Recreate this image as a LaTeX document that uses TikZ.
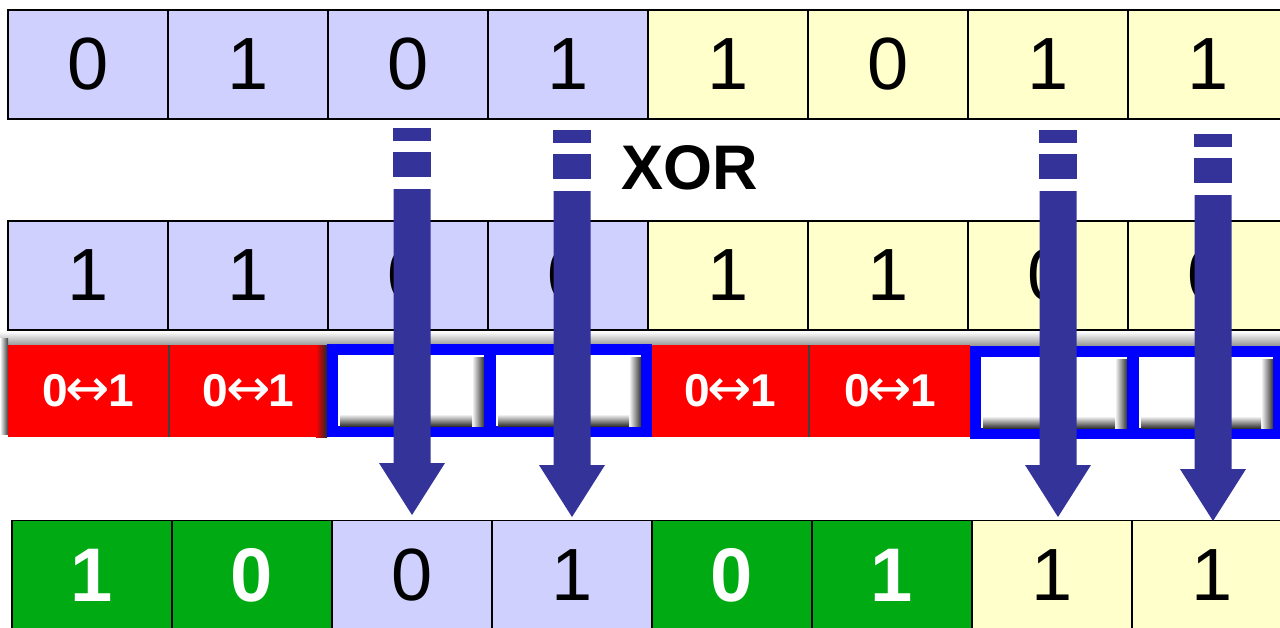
\documentclass[tikz,border=0pt]{standalone}
\usepackage{fontspec}
\setmainfont{Liberation Sans}
\newfontfamily\arrowfont{DejaVu Sans}
\definecolor{lav}{RGB}{208,208,255}
\definecolor{yel}{RGB}{255,255,204}
\definecolor{arrowc}{RGB}{51,51,153}
\definecolor{grn}{RGB}{0,170,18}
\definecolor{redc}{RGB}{255,0,0}
\definecolor{bluec}{RGB}{0,0,255}
\newcommand\xorarrow[2]{%
  \fill[arrowc] ({#1-19},{128+#2}) rectangle ({#1+19},{141+#2});
  \fill[arrowc] ({#1-19},{152+#2}) rectangle ({#1+19},{177+#2});
  \fill[arrowc] ({#1-18.5},{189+#2}) -- ({#1+18.5},{189+#2}) -- ({#1+18.5},{463+#2})
    -- ({#1+33},{463+#2}) -- ({#1},{515+#2}) -- ({#1-33},{463+#2}) -- ({#1-18.5},{463+#2}) -- cycle;}
\newcommand\flip{0{\arrowfont\mdseries\fontsize{53}{53}\selectfont\kern-2pt↔\kern-2pt}1}
\begin{document}
\begin{tikzpicture}[x=1pt,y=-1pt,
  cell/.style={draw=black, line width=1.8pt, minimum width=160pt, minimum height=109pt,
    inner sep=0pt, font=\fontsize{74}{80}\selectfont},
  lavcell/.style={cell, fill=lav},
  yelcell/.style={cell, fill=yel},
  gcell/.style={cell, fill=grn, text=white, font=\bfseries\fontsize{76}{80}\selectfont},
  redcell/.style={fill=redc, text=white, minimum height=92pt, inner sep=0pt,
    font=\bfseries\fontsize{46}{50}\selectfont},
  bluecell/.style={draw=bluec, fill=white, line width=11pt, minimum height=82pt, inner sep=0pt},
]
\useasboundingbox[fill=white] (0,0) rectangle (1280,627);

% row 1
\foreach \v/\c [count=\i] in {0/lavcell,1/lavcell,0/lavcell,1/lavcell,1/yelcell,0/yelcell,1/yelcell,1/yelcell}
  \node[\c] (a\i) at ({88+160*(\i-1)},64.5) {\v};
% row 2
\foreach \v/\c [count=\i] in {1/lavcell,1/lavcell,0/lavcell,0/lavcell,1/yelcell,1/yelcell,0/yelcell,0/yelcell}
  \node[\c] (b\i) at ({88+160*(\i-1)},275.5) {\v};

% shadow band above row 3
\shade[top color=white, bottom color=black!40] (0,331.5) rectangle (1280,345);
\shade[left color=white, right color=black!75] (0,338) rectangle (8,434);

% row 3 : red cells
\node[redcell, minimum width=160pt] (r1) at (88,391) {\flip};
\node[redcell, minimum width=157pt] (r2) at (248.5,391) {\flip};
\node[redcell, minimum width=156pt] (r3) at (730,391) {\flip};
\node[redcell, minimum width=160pt] (r4) at (890,391) {\flip};
\draw[black!75, line width=2pt] ([xshift=1pt]r1.north east) -- ([xshift=1pt]r1.south east);
\draw[black!75, line width=2pt] ([xshift=1pt]r3.north east) -- ([xshift=1pt]r3.south east);
\shade[left color=redc, right color=black!85] (316,345) rectangle (327,437);

% row 3 : blue cells
\node[bluecell, minimum width=157pt] (k1) at (411,390.5) {};
\node[bluecell, minimum width=156pt] (k2) at (568.5,390.5) {};
\node[bluecell, minimum width=157pt] (k3) at (1054,392.5) {};
\node[bluecell, minimum width=145pt] (k4) at (1206,392.5) {};
\foreach \l/\r/\t/\b in {338/484/355/426, 496/641/355/426, 981/1127/357/428, 1139/1273/357/428}{
  \shade[left color=white, right color=black!80] (\r-12,\t+2) rectangle (\r,\b);
  \shade[top color=white, bottom color=black!80] (\l+2,\b-12) rectangle (\r-12,\b);
}

% row 4
\foreach \v/\c [count=\i] in {1/gcell,0/gcell,0/lavcell,1/lavcell,0/gcell,1/gcell,1/yelcell,1/yelcell}
  \node[\c] (c\i) at ({92+160*(\i-1)},575) {\v};

% XOR label
\node[font=\bfseries\fontsize{63}{70}\selectfont] (xor) at (690,168) {XOR};

% arrows
\xorarrow{412}{0}
\xorarrow{572}{2}
\xorarrow{1058}{2}
\xorarrow{1213}{6}
\end{tikzpicture}
\end{document}
